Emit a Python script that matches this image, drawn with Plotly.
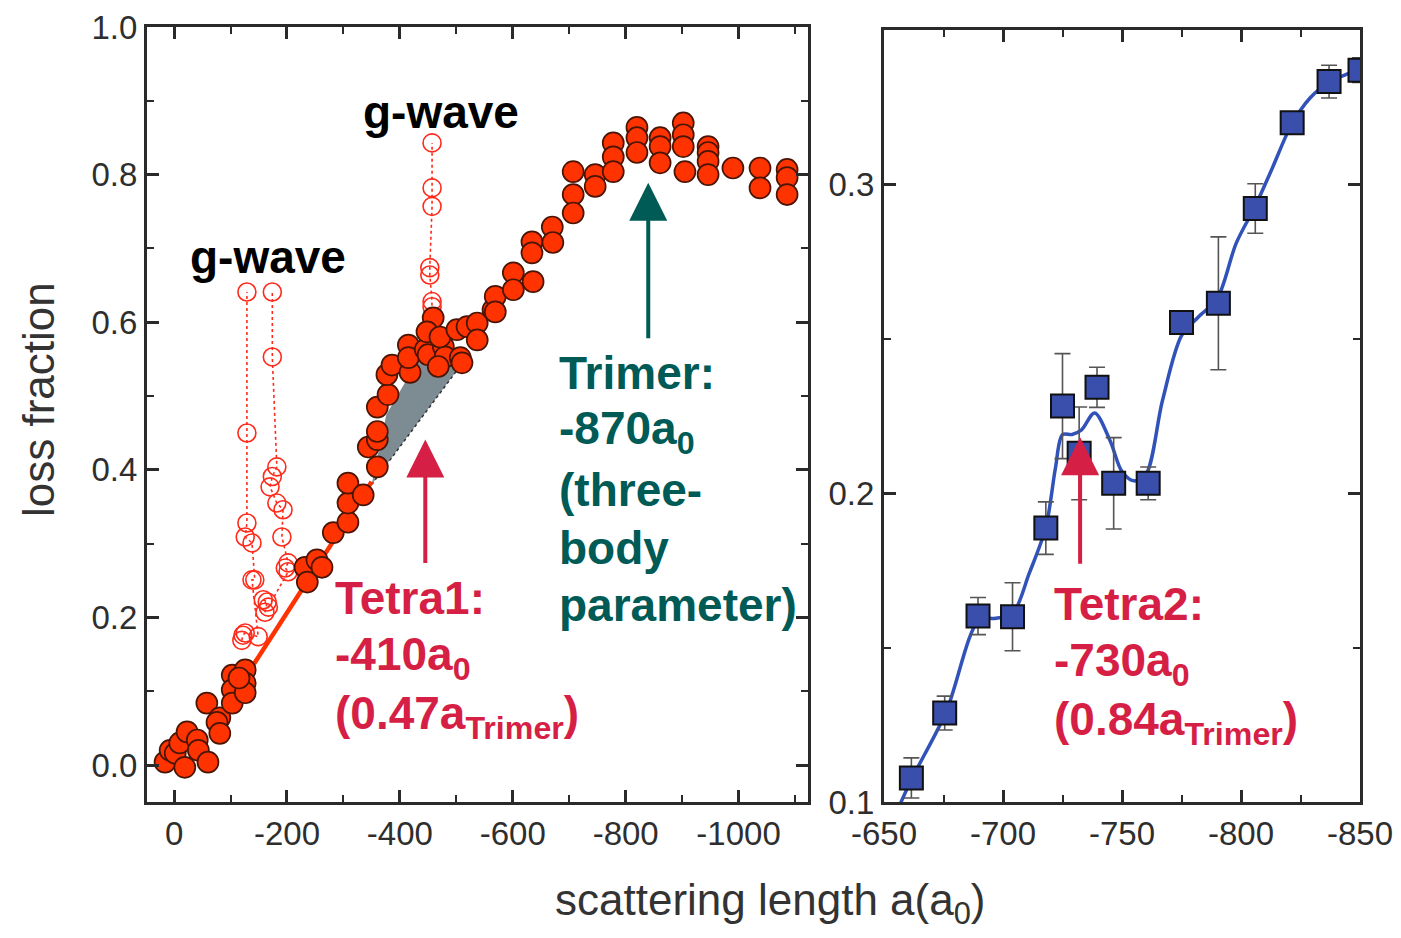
import plotly.graph_objects as go

# ---------------- data (left panel) ----------------
loss_a = [16, 7, -2, -10, -19, -23, -41, -43, -60, -58, -81, -76, -81, -103, -103, -103,
          -126, -126, -126, -115, -232, -236, -253, -262, -282, -308, -308, -308, -335,
          -360, -344, -360, -360, -360, -379, -377, -386, -418, -415, -415, -445, -450,
          -477, -480, -468, -507, -510, -459, -448, -471, -501, -519, -537, -537, -565,
          -569, -569, -601, -601, -636, -634, -634, -670, -671, -707, -707, -707, -746,
          -746, -778, -778, -778, -820, -820, -820, -861, -861, -861, -902, -902, -902,
          -905, -946, -946, -946, -946, -990, -1038, -1038, -1086, -1086, -1086]
loss_y = [0.004, 0.020, 0.016, 0.030, -0.003, 0.045, 0.034, 0.020, 0.004, 0.084, 0.064, 0.058,
          0.043, 0.122, 0.102, 0.084, 0.129, 0.111, 0.098, 0.118, 0.268, 0.248, 0.278, 0.268,
          0.315, 0.329, 0.355, 0.382, 0.366, 0.404, 0.431, 0.441, 0.452, 0.485, 0.502, 0.529,
          0.542, 0.532, 0.569, 0.552, 0.563, 0.556, 0.567, 0.553, 0.540, 0.552, 0.545, 0.606,
          0.587, 0.580, 0.590, 0.594, 0.599, 0.576, 0.617, 0.635, 0.614, 0.667, 0.644, 0.655,
          0.709, 0.694, 0.729, 0.708, 0.773, 0.748, 0.804, 0.800, 0.784, 0.843, 0.824, 0.804,
          0.864, 0.850, 0.830, 0.850, 0.838, 0.816, 0.870, 0.854, 0.838, 0.804, 0.838, 0.830,
          0.818, 0.800, 0.809, 0.809, 0.782, 0.807, 0.796, 0.773]

# g-wave resonance scans (open circles)
gw1_a = [-120, -122, -126, -149, -138, -143, -138, -126, -129, -129, -129]
gw1_y = [0.169, 0.176, 0.179, 0.174, 0.251, 0.251, 0.301, 0.309, 0.328, 0.450, 0.641]
gw2_a = [-161, -165, -158, -167, -202, -197, -202, -191, -193, -182, -170, -174, -182, -174, -174]
gw2_y = [0.207, 0.221, 0.224, 0.214, 0.262, 0.267, 0.274, 0.309, 0.346, 0.355, 0.377, 0.391,
         0.404, 0.553, 0.641]
gw3_a = [-455, -457, -457, -453, -453, -457, -457, -457]
gw3_y = [0.590, 0.621, 0.628, 0.664, 0.674, 0.757, 0.782, 0.843]

# linear guide (solid) and shaded deviation region
guide_a = [-138, -350]
guide_y = [0.133, 0.384]
shade_a = [-350, -376, -432, -512, -350]
shade_y = [0.380, 0.475, 0.548, 0.546, 0.380]
dash_a = [-350, -512]
dash_y = [0.380, 0.546]

# ---------------- data (right panel) ----------------
sq_a = [-661.5, -675.5, -689.5, -704, -718, -725, -732, -739.5, -746.5, -761, -775,
        -790.5, -806, -821.5, -837, -850]
sq_y = [0.1078, 0.1288, 0.1602, 0.1600, 0.1887, 0.2282, 0.2129, 0.2343, 0.2032, 0.2032,
        0.2553, 0.2615, 0.2922, 0.3200, 0.3333, 0.3370]
sq_err = [0.0065, 0.0055, 0.006, 0.011, 0.0085, 0.017, 0.015, 0.0065, 0.0148, 0.0053,
          0.002, 0.0215, 0.008, 0.002, 0.0053, 0.004]
fit_a = [-656, -662, -676, -690, -697, -704, -711, -718, -722, -725, -729, -733, -738.5,
         -745, -750, -755, -760, -767, -775, -782, -790, -798, -806, -813, -821, -829,
         -837, -852]
fit_y = [0.098, 0.108, 0.129, 0.159, 0.1595, 0.161, 0.174, 0.189, 0.208, 0.219, 0.219,
         0.2205, 0.226, 0.217, 0.207, 0.204, 0.206, 0.230, 0.251, 0.257, 0.263, 0.281,
         0.293, 0.305, 0.319, 0.328, 0.333, 0.338]

left_ticks = [0, -200, -400, -600, -800, -1000]
left_ticktext = ["0", "-200", "-400", "-600", "-800", "-1000"]
lossy_ticks = [0.0, 0.2, 0.4, 0.6, 0.8, 1.0]
lossy_ticktext = ["0.0", "0.2", "0.4", "0.6", "0.8", "1.0"]
right_ticks = [-650, -700, -750, -800, -850]
right_ticktext = ["-650", "-700", "-750", "-800", "-850"]
righty_ticks = [0.1, 0.2, 0.3]
righty_ticktext = ["0.1", "0.2", "0.3"]

# page geometry: the browser body has an 8 px margin
OFF = 8
W, H = 1401 - 2 * OFF, 938 - 2 * OFF


def px_x(p):
    return (p - OFF) / W


def px_y(p):
    return (H + OFF - p) / H


FONT = "Liberation Sans, Arial, Helvetica, sans-serif"
RED = "#ff3300"
OPEN_RED = "#ff2a1a"
CRIMSON = "#d61f45"
TEAL = "#005a55"
BLUE = "#3a4fab"
FRAME = "#2a2a2a"

fig = go.Figure()

# shaded region
fig.add_trace(go.Scatter(x=shade_a, y=shade_y, mode="lines", fill="toself",
                         fillcolor="#7d8b93", line=dict(width=0), hoverinfo="skip",
                         xaxis="x", yaxis="y", showlegend=False))
fig.add_trace(go.Scatter(x=dash_a, y=dash_y, mode="lines",
                         line=dict(color="#333333", width=1.5, dash="dot"),
                         xaxis="x", yaxis="y", showlegend=False))
# g-wave scans
for ga, gy in ((gw1_a, gw1_y), (gw2_a, gw2_y), (gw3_a, gw3_y)):
    fig.add_trace(go.Scatter(x=ga, y=gy, mode="lines+markers",
                             line=dict(color=OPEN_RED, width=1.6, dash="dot"),
                             marker=dict(symbol="circle-open", size=18, color=OPEN_RED,
                                         line=dict(width=1.6)),
                             xaxis="x", yaxis="y", showlegend=False))
# solid guide line
fig.add_trace(go.Scatter(x=guide_a, y=guide_y, mode="lines",
                         line=dict(color=RED, width=4.5),
                         xaxis="x", yaxis="y", showlegend=False))
# filled loss data
fig.add_trace(go.Scatter(x=loss_a, y=loss_y, mode="markers",
                         marker=dict(symbol="circle", size=21, color=RED,
                                     line=dict(color="#4a1505", width=1.7)),
                         xaxis="x", yaxis="y", showlegend=False))

# right panel
fig.add_trace(go.Scatter(x=fit_a, y=fit_y, mode="lines", line_shape="spline",
                         line=dict(color="#3152b8", width=3.5, smoothing=0.9),
                         xaxis="x2", yaxis="y2", showlegend=False))
fig.add_trace(go.Scatter(x=sq_a, y=sq_y, mode="markers",
                         marker=dict(symbol="square", size=23, color=BLUE,
                                     line=dict(color="#111111", width=2)),
                         error_y=dict(type="data", array=sq_err, visible=True,
                                      color="#555555", thickness=1.6, width=8),
                         xaxis="x2", yaxis="y2", showlegend=False))

axis_common = dict(showline=True, linewidth=3, linecolor=FRAME, mirror="allticks",
                   ticks="inside", ticklen=12, tickwidth=2.5, tickcolor=FRAME,
                   showgrid=False, zeroline=False, automargin=False,
                   ticklabeloverflow="allow",
                   tickfont=dict(family=FONT, size=33, color="#2e2e2e"))

fig.update_layout(
    width=W, height=H,
    margin=dict(l=0, r=0, t=0, b=0),
    paper_bgcolor="white", plot_bgcolor="white",
    font=dict(family=FONT),
    xaxis=dict(domain=[px_x(147), px_x(808)], range=[48, -1123], anchor="y",
               tickmode="array", tickvals=left_ticks, ticktext=left_ticktext,
               minor=dict(ticks="inside", ticklen=7, tickwidth=2, tickcolor=FRAME,
                          tickmode="linear", tick0=0, dtick=100),
               **axis_common),
    yaxis=dict(domain=[px_y(802), px_y(27)], range=[-0.05, 1.0], anchor="x",
               tickmode="array", tickvals=lossy_ticks, ticktext=lossy_ticktext,
               minor=dict(ticks="inside", ticklen=7, tickwidth=2, tickcolor=FRAME,
                          tickmode="linear", tick0=0, dtick=0.1),
               **axis_common),
    xaxis2=dict(domain=[px_x(884), px_x(1360)], range=[-650, -850], anchor="y2",
                tickmode="array", tickvals=right_ticks, ticktext=right_ticktext,
                minor=dict(ticks="inside", ticklen=7, tickwidth=2, tickcolor=FRAME,
                           tickmode="linear", tick0=-650, dtick=25),
                **axis_common),
    yaxis2=dict(domain=[px_y(802), px_y(30)], range=[0.1, 0.35], anchor="x2",
                tickmode="array", tickvals=righty_ticks, ticktext=righty_ticktext,
                minor=dict(ticks="inside", ticklen=7, tickwidth=2, tickcolor=FRAME,
                           tickmode="linear", tick0=0.1, dtick=0.05),
                **axis_common),
)

ann = []
# axis titles
ann.append(dict(text="loss fraction", xref="paper", yref="paper", x=px_x(38), y=px_y(400),
                textangle=-90, showarrow=False, xanchor="center", yanchor="middle",
                font=dict(family=FONT, size=44, color="#333333")))
ann.append(dict(text="scattering length a(a<sub>0</sub>)", xref="paper", yref="paper",
                x=px_x(770), y=px_y(903), showarrow=False, xanchor="center",
                yanchor="middle", font=dict(family=FONT, size=44, color="#333333")))

bold = dict(family=FONT, size=46)
# g-wave labels
ann.append(dict(text="<b>g-wave</b>", x=-473, y=0.885, xref="x", yref="y", showarrow=False,
                xanchor="center", yanchor="middle", font=dict(bold, color="black")))
ann.append(dict(text="<b>g-wave</b>", x=-166, y=0.689, xref="x", yref="y", showarrow=False,
                xanchor="center", yanchor="middle", font=dict(bold, color="black")))
# Trimer text
trimer_lines = ["Trimer:", "-870a<sub>0</sub>", "(three-", "body", "parameter)"]
trimer_y = [0.5315, 0.4515, 0.3729, 0.2942, 0.2169]
for t, yy in zip(trimer_lines, trimer_y):
    ann.append(dict(text="<b>" + t + "</b>", x=-678, y=yy, xref="x", yref="y", showarrow=False,
                    xanchor="left", yanchor="middle", font=dict(bold, color=TEAL)))
# Tetra1 text
t1_lines = ["Tetra1:", "-410a<sub>0</sub>", "(0.47a<sub>Trimer</sub>)"]
t1_y = [0.2264, 0.1464, 0.0664]
for t, yy in zip(t1_lines, t1_y):
    ann.append(dict(text="<b>" + t + "</b>", x=-282, y=yy, xref="x", yref="y", showarrow=False,
                    xanchor="left", yanchor="middle", font=dict(bold, color=CRIMSON)))
# Tetra2 text
t2_lines = ["Tetra2:", "-730a<sub>0</sub>", "(0.84a<sub>Trimer</sub>)"]
t2_y = [0.1641, 0.1450, 0.1259]
for t, yy in zip(t2_lines, t2_y):
    ann.append(dict(text="<b>" + t + "</b>", x=-720.5, y=yy, xref="x2", yref="y2", showarrow=False,
                    xanchor="left", yanchor="middle", font=dict(bold, color=CRIMSON)))
# arrows
ann.append(dict(text="", x=-840, y=0.789, xref="x", yref="y", showarrow=True, ax=0, ay=157,
                arrowhead=2, arrowsize=1.9, arrowwidth=4, arrowcolor=TEAL))
ann.append(dict(text="", x=-445, y=0.441, xref="x", yref="y", showarrow=True, ax=0, ay=125,
                arrowhead=2, arrowsize=1.9, arrowwidth=4, arrowcolor=CRIMSON))
ann.append(dict(text="", x=-732.4, y=0.2181, xref="x2", yref="y2", showarrow=True, ax=0, ay=128,
                arrowhead=2, arrowsize=1.9, arrowwidth=4, arrowcolor=CRIMSON))

fig.update_layout(annotations=ann)
fig.write_html("out.html")
